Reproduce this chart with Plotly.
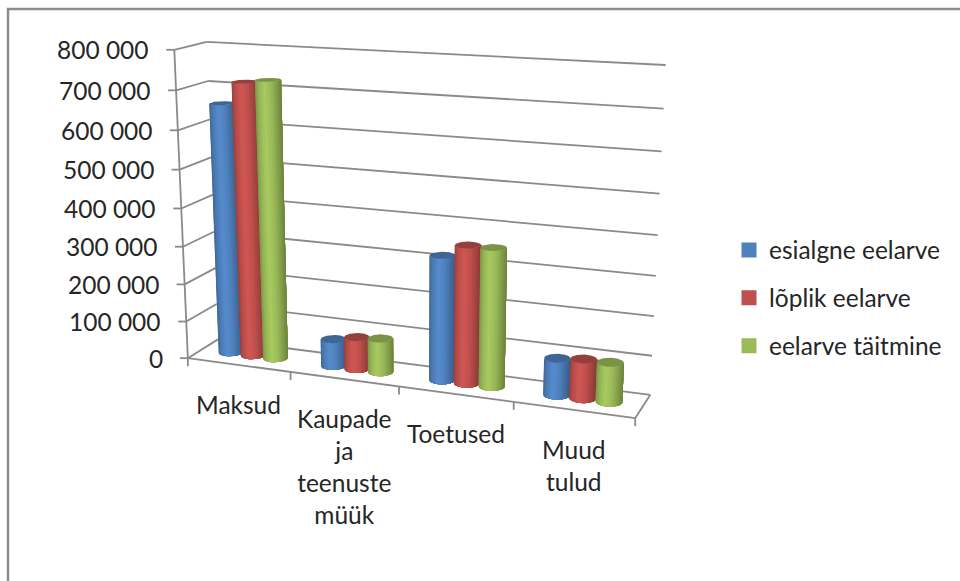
import numpy as np
import plotly.graph_objects as go

# Budget revenue by source, three budget stages
categories = ["Maksud", "Kaupade<br>ja<br>teenuste<br>müük", "Toetused", "Muud<br>tulud"]
series_names = ["esialgne eelarve", "lõplik eelarve", "eelarve täitmine"]
esialgne = [660000, 72000, 322000, 94000]
loplik = [718000, 85000, 354000, 100000]
taitmine = [726000, 89000, 354000, 100000]
series_values = [esialgne, loplik, taitmine]
tick_values = [0, 100000, 200000, 300000, 400000, 500000, 600000, 700000, 800000]
tick_labels = ["0", "100 000", "200 000", "300 000", "400 000", "500 000", "600 000", "700 000", "800 000"]

BASE = [(79, 129, 189), (192, 80, 77), (155, 187, 89)]
GRID = "#8a8a8a"
FONT = "Lato"
TEXT = "#262626"

# Screen anchors of the chart box: (category position, depth, value) -> pixel
anchors = []
for u, px in enumerate([(188, 358), (289, 373), (398, 387), (513, 403), (636, 418)]):
    anchors.append((u, 0, 0, *px))
front_left = [(188, 358), (187, 321), (185, 283), (183, 247), (182, 208), (181, 170), (178, 130), (176, 90), (173, 50)]
back_left = [(218, 340), (216, 305), (215, 268), (214, 232), (213, 195), (212, 157), (210, 119), (208, 81), (205, 42)]
back_right = [(650, 394), (652, 355), (654, 316), (656, 275), (658, 235), (660, 193), (662, 151), (664, 110), (665, 66)]
for k in range(9):
    anchors.append((0, 0, k, *front_left[k]))
    anchors.append((0, 1, k, *back_left[k]))
    anchors.append((4, 1, k, *back_right[k]))


def fit_camera(points):
    rows = []
    for u, w, k, px, py in points:
        X = np.array([u / 4, w, k / 8, 1.0])
        rows.append(np.r_[X, np.zeros(4), -px / 500 * X])
        rows.append(np.r_[np.zeros(4), X, -py / 500 * X])
    return np.linalg.svd(np.array(rows))[2][-1].reshape(3, 4)


CAMERA = fit_camera(anchors)


def project(u, w, value):
    h = CAMERA @ np.array([u / 4, w, value / 800000, 1.0])
    return h[0] / h[2] * 500, h[1] / h[2] * 500


def shade(rgb, factor):
    return "rgb(%d,%d,%d)" % tuple(min(255, int(c * factor)) for c in rgb)


def body_factor(f):
    return float(np.interp(f, [0, 0.12, 0.35, 0.6, 0.85, 1], [0.80, 0.95, 1.09, 1.0, 0.82, 0.70]))


fig = go.Figure()


def add_line(p0, p1, width=1.8):
    fig.add_trace(go.Scatter(x=[p0[0], p1[0]], y=[p0[1], p1[1]], mode="lines",
                             line=dict(color=GRID, width=width), hoverinfo="skip", showlegend=False))


# Walls: value gridlines on the side and back, floor outline, axis and tick marks
for v in tick_values:
    add_line(project(0, 0, v), project(0, 1, v))
    add_line(project(0, 1, v), project(4, 1, v))
    x, y = project(0, 0, v)
    add_line((x - 8, y), (x, y))
add_line(project(0, 0, 0), project(0, 0, 800000))
add_line(project(0, 0, 0), project(4, 0, 0))
add_line(project(4, 0, 0), project(4, 1, 0))
for i in range(5):
    x, y = project(i, 0, 0)
    add_line((x, y), (x, y + 8))

# Cylinders
STEP = 0.22
RU, RW = 0.108, 0.2
angles = np.linspace(0, 2 * np.pi, 361)
band_edges = (1 - np.cos(np.linspace(0, np.pi, 19))) / 2


def ring(uc, wc, value):
    return np.array([project(uc + RU * np.cos(t), wc + RW * np.sin(t), value) for t in angles])


def front_profile(points, normal):
    """Points of the viewer-facing arc of a ring, sampled by position across the silhouette."""
    side = (points[:-1] - points[:-1].mean(axis=0)) @ normal
    a, b = int(np.argmin(side)), int(np.argmax(side))
    n = len(side)
    arc = [(a + s) % n for s in range((b - a) % n + 1)]
    other = [(a - s) % n for s in range((a - b) % n + 1)]
    if points[other, 1].mean() > points[arc, 1].mean():
        arc = other
    f = (side[arc] - side[a]) / (side[b] - side[a])
    return np.column_stack([np.interp(band_edges, f, points[arc, 0]), np.interp(band_edges, f, points[arc, 1])])


def polygon(xs, ys, color, group):
    fig.add_trace(go.Scatter(x=list(xs), y=list(ys), mode="lines", fill="toself", fillcolor=color,
                             line=dict(color=color, width=0), hoverinfo="skip",
                             showlegend=False, legendgroup=group))


for i in range(len(categories)):
    for j, name in enumerate(series_names):
        value = series_values[j][i]
        uc = i + 0.5 + (j - 1) * STEP
        low, high = ring(uc, 0.5, 0), ring(uc, 0.5, value)
        axis = high.mean(axis=0) - low.mean(axis=0)
        normal = np.array([-axis[1], axis[0]]) / np.hypot(*axis)
        if normal[0] < 0:
            normal = -normal
        low_arc, high_arc = front_profile(low, normal), front_profile(high, normal)
        # each band reaches to the far silhouette and the next one paints over it, so no seams show
        for k in range(len(band_edges) - 1):
            f = (band_edges[k] + band_edges[k + 1]) / 2
            xs = np.r_[low_arc[k:, 0], high_arc[k:, 0][::-1], low_arc[k, 0]]
            ys = np.r_[low_arc[k:, 1], high_arc[k:, 1][::-1], low_arc[k, 1]]
            polygon(xs, ys, shade(BASE[j], body_factor(f)), name)
        polygon(high[:, 0], high[:, 1], shade(BASE[j], 0.79), name)

# Legend entries
for j, name in enumerate(series_names):
    fig.add_trace(go.Scatter(x=[None], y=[None], mode="markers", name=name, legendgroup=name,
                             marker=dict(symbol="square", size=15, color=shade(BASE[j], 1.0))))

annotations = []
for v, label in zip(tick_values, tick_labels):
    x, y = project(0, 0, v)
    annotations.append(dict(x=x, y=y, text=label, xanchor="right", yanchor="middle", xshift=-23,
                            showarrow=False, font=dict(family=FONT, size=24.5, color=TEXT)))
for i, label in enumerate(categories):
    x, y = project(i + 0.5, 0, 0)
    annotations.append(dict(x=x, y=y + 23, text=label, xanchor="center", yanchor="top", showarrow=False,
                            font=dict(family=FONT, size=24.5, color=TEXT)))

fig.update_layout(
    width=960, height=581, margin=dict(l=0, r=0, t=0, b=0),
    paper_bgcolor="white", plot_bgcolor="white",
    xaxis=dict(range=[0, 960], visible=False, fixedrange=True),
    yaxis=dict(range=[581, 0], visible=False, fixedrange=True),
    annotations=annotations,
    legend=dict(x=729 / 960, y=1 - 298 / 581, xanchor="left", yanchor="middle", tracegroupgap=13,
                font=dict(family=FONT, size=24.5, color=TEXT), bgcolor="rgba(0,0,0,0)"),
    shapes=[dict(type="path", xref="x", yref="y", path="M 8 581 L 8 9 L 960 9",
                 line=dict(color="#8c8c8c", width=2.5))],
)
fig.write_html("out.html")
